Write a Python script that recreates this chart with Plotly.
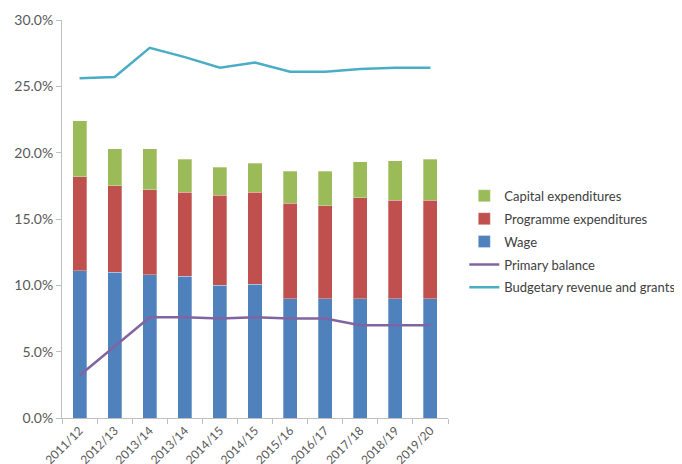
import plotly.graph_objects as go

years = ["2011/12", "2012/13", "2013/14", "2013/14", "2014/15", "2014/15",
         "2015/16", "2016/17", "2017/18", "2018/19", "2019/20"]
wage = [11.1, 11.0, 10.8, 10.7, 10.0, 10.1, 9.0, 9.0, 9.0, 9.0, 9.0]
programme = [7.1, 6.5, 6.4, 6.3, 6.8, 6.9, 7.2, 7.0, 7.6, 7.4, 7.4]
capital = [4.2, 2.8, 3.1, 2.5, 2.1, 2.2, 2.4, 2.6, 2.7, 3.0, 3.1]
primary_balance = [3.2, 5.4, 7.6, 7.6, 7.5, 7.6, 7.5, 7.5, 7.0, 7.0, 7.0]
revenue = [25.6, 25.7, 27.9, 27.2, 26.4, 26.8, 26.1, 26.1, 26.3, 26.4, 26.4]

# years repeat, so place them by index and label the ticks
xs = list(range(len(years)))

font = "Lato, 'Open Sans', sans-serif"
grey = "#595959"

fig = go.Figure()
bar_line = dict(color="rgba(255,255,255,0.6)", width=0.5)
fig.add_trace(go.Bar(x=xs, y=wage, name="Wage", marker=dict(color="#4F81BD", line=bar_line),
                     width=0.4, legendrank=3, legendgroup="w"))
fig.add_trace(go.Bar(x=xs, y=programme, name="Programme expenditures",
                     marker=dict(color="#C0504D", line=bar_line), width=0.4,
                     legendrank=2, legendgroup="p"))
fig.add_trace(go.Bar(x=xs, y=capital, name="Capital expenditures",
                     marker=dict(color="#9BBB59", line=bar_line), width=0.4,
                     legendrank=1, legendgroup="c"))
fig.add_trace(go.Scatter(x=xs, y=primary_balance, name="Primary balance", mode="lines",
                         line=dict(color="#8064A2", width=2.5), legendrank=4,
                         legendgroup="pb"))
fig.add_trace(go.Scatter(x=xs, y=revenue, name="Budgetary revenue and grants", mode="lines",
                         line=dict(color="#4BACC6", width=2.5), legendrank=5,
                         legendgroup="r"))

# page body adds an 8px offset, so the figure is drawn a little smaller
fig.update_layout(
    width=674, height=456,
    barmode="stack",
    plot_bgcolor="white", paper_bgcolor="white",
    margin=dict(l=54, r=234, t=12, b=46),
    font=dict(family=font, size=12, color=grey),
    legend=dict(xref="container", yref="container", x=0.677, y=0.621,
                xanchor="left", yanchor="top", traceorder="grouped",
                font=dict(size=13, color="#404040"), tracegroupgap=3,
                itemwidth=30, bgcolor="rgba(0,0,0,0)"),
    xaxis=dict(range=[-0.5, 10.5], tickmode="array", tickvals=xs, ticktext=years,
               tickangle=-45, showgrid=False, zeroline=False, showline=True,
               linecolor="#BFBFBF", linewidth=1, ticks="", automargin=False,
               minor=dict(ticks="outside", tick0=-0.5, dtick=1, ticklen=5,
                          tickcolor="#BFBFBF", showgrid=False),
               tickfont=dict(size=12, color=grey)),
    yaxis=dict(range=[0, 30], dtick=5, tickformat=".1f", ticksuffix="%",
               showgrid=False, zeroline=False, showline=True, linecolor="#BFBFBF",
               linewidth=1, ticks="outside", ticklen=5, tickcolor="#BFBFBF",
               automargin=False, tickfont=dict(size=14, color=grey)),
)

fig.write_html("out.html")
